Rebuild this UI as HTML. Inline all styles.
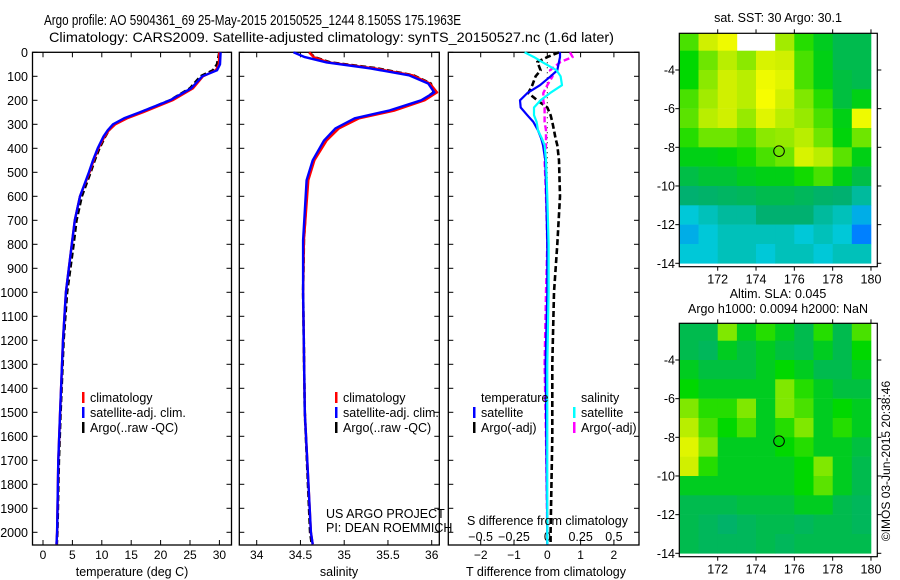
<!DOCTYPE html>
<html><head><meta charset="utf-8"><style>
html,body{margin:0;padding:0;background:#fff;}
svg{display:block;font-family:"Liberation Sans",sans-serif;}
text{fill:#000;}
</style></head><body>
<svg id="fig" width="900" height="580" viewBox="0 0 900 580" xmlns="http://www.w3.org/2000/svg">
<text x="44" y="25" font-size="14.5" textLength="417" lengthAdjust="spacingAndGlyphs">Argo profile: AO 5904361_69 25-May-2015 20150525_1244 8.1505S 175.1963E</text>
<text x="49" y="42" font-size="14" textLength="565" lengthAdjust="spacingAndGlyphs">Climatology: CARS2009. Satellite-adjusted climatology: synTS_20150527.nc (1.6d later)</text>
<text x="890" y="461" font-size="12" text-anchor="middle" transform="rotate(-90 890 461)">©IMOS 03-Jun-2015 20:38:46</text>
<g id="g"></g>
</svg>
<script>
// ---------- data ----------
const depthT = [0,50,75,100,150,200,250,275,300,325,350,400,450,500,600,700,800,1000,1200,1500,1700,2000,2050];
const tempClim = [30.0,29.9,29.4,27.2,25.5,22.0,17.0,14.3,12.3,11.2,10.5,9.4,8.6,7.9,6.3,5.4,4.9,3.9,3.4,2.9,2.6,2.4,2.3];
const tempSat  = [30.2,30.1,29.6,27.1,25.2,21.6,16.5,13.8,11.9,11.0,10.3,9.3,8.5,7.8,6.3,5.4,4.9,3.9,3.4,2.9,2.6,2.4,2.3];
const tempArgo = [30.0,29.6,28.9,26.8,25.0,21.6,16.6,14.1,12.1,11.2,10.6,9.6,8.8,8.1,6.6,5.7,5.2,4.1,3.5,3.0,2.7,2.45,2.35];
const depthS = [0,20,42,67,96,130,167,200,242,275,317,367,450,533,783,1000,1500,2000,2050];
const salClim = [34.60,34.65,34.82,35.35,35.78,35.98,36.06,35.92,35.58,35.17,34.94,34.80,34.66,34.59,34.54,34.53,34.55,34.62,34.64];
const salSat  = [34.42,34.55,34.80,35.30,35.74,35.96,36.03,35.88,35.52,35.12,34.90,34.77,34.64,34.57,34.53,34.53,34.55,34.62,34.64];
const salArgo = [34.60,34.66,34.84,35.38,35.79,35.99,36.02,35.90,35.55,35.15,34.93,34.79,34.65,34.58,34.54,34.53,34.55,34.61,34.63];
const depthD = [0,20,40,75,100,137,170,200,230,262,290,325,360,387,450,600,800,1000,1300,1600,2000,2050];
const dTsat  = [0.38,0.38,0.35,0.30,0.10,-0.22,-0.60,-0.82,-0.80,-0.60,-0.42,-0.28,-0.18,-0.13,-0.06,-0.03,0.0,0.0,-0.05,-0.03,0.0,0.0];
const dSsat  = [-0.17,-0.10,-0.04,0.07,0.10,0.11,0.02,-0.05,-0.10,-0.10,-0.08,-0.07,-0.04,-0.02,-0.01,0.0,0.01,0.01,0.0,0.0,0.0,0.0];
const dTargo = [0.35,0.0,-0.30,-0.20,-0.35,-0.45,-0.57,-0.30,0.0,0.10,0.15,0.20,0.25,0.30,0.35,0.38,0.30,0.20,0.15,0.15,0.10,0.10];
const dSargo = [0.17,0.19,0.10,0.02,0.04,0.00,-0.03,-0.03,-0.02,-0.02,-0.02,-0.01,-0.01,-0.01,-0.02,-0.01,0.0,-0.01,-0.02,-0.01,0.0,0.0];
const depthTicks = [0,100,200,300,400,500,600,700,800,900,1000,1100,1200,1300,1400,1500,1600,1700,1800,1900,2000];
const tempTicks = [0,5,10,15,20,25,30];
const salTicks = [34,34.5,35,35.5,36];
const dTTicks = [-2,-1,0,1,2];
const dSTicks = [-0.5,-0.25,0,0.25,0.5];
const lonTicks = [172,174,176,178,180];
const latTicks = [-4,-6,-8,-10,-12,-14];
const sstGrid = [
[0.62,0.72,0.76,null,null,0.68,0.60,0.55,0.50,0.50],
[0.58,0.64,0.70,0.66,0.73,0.72,0.62,0.56,0.50,0.50],
[0.58,0.66,0.72,0.70,0.76,0.74,0.62,0.56,0.52,0.50],
[0.62,0.68,0.72,0.70,0.77,0.72,0.65,0.60,0.52,0.56],
[0.63,0.70,0.72,0.67,0.74,0.70,0.67,0.62,0.56,0.76],
[0.60,0.64,0.64,0.62,0.66,0.67,0.70,0.64,0.57,0.64],
[0.56,0.56,0.57,0.59,0.62,0.64,0.73,0.70,0.63,0.56],
[0.51,0.53,0.53,0.55,0.56,0.56,0.59,0.62,0.56,0.51],
[0.45,0.46,0.47,0.48,0.50,0.50,0.48,0.46,0.45,0.42],
[0.38,0.40,0.42,0.42,0.45,0.45,0.45,0.42,0.40,0.35],
[0.35,0.38,0.40,0.40,0.40,0.40,0.38,0.40,0.38,0.30],
[0.38,0.38,0.40,0.40,0.38,0.40,0.40,0.38,0.40,0.40]];
const slaGrid = [
[0.50,0.50,0.65,0.55,0.60,0.55,0.50,0.60,0.50,0.62],
[0.50,0.48,0.55,0.52,0.55,0.52,0.50,0.55,0.50,0.58],
[0.55,0.52,0.52,0.52,0.55,0.58,0.55,0.50,0.50,0.55],
[0.58,0.55,0.55,0.55,0.55,0.65,0.60,0.55,0.52,0.52],
[0.65,0.60,0.60,0.65,0.55,0.65,0.62,0.55,0.58,0.55],
[0.70,0.62,0.58,0.62,0.55,0.60,0.65,0.55,0.60,0.55],
[0.74,0.65,0.55,0.55,0.55,0.58,0.60,0.55,0.55,0.52],
[0.72,0.60,0.55,0.55,0.55,0.55,0.58,0.65,0.55,0.50],
[0.55,0.55,0.55,0.55,0.55,0.55,0.58,0.63,0.55,0.50],
[0.50,0.50,0.50,0.52,0.52,0.52,0.55,0.55,0.50,0.48],
[0.50,0.48,0.46,0.48,0.50,0.50,0.48,0.50,0.50,0.48],
[0.50,0.48,0.48,0.48,0.50,0.48,0.50,0.50,0.50,0.50]];
const floatLon = 175.2, floatLat = -8.2;

// ---------- helpers ----------
const NS="http://www.w3.org/2000/svg";
const G=document.getElementById('g');
function mk(tag,attrs,parent){const e=document.createElementNS(NS,tag);for(const k in attrs)e.setAttribute(k,attrs[k]);(parent||G).appendChild(e);return e;}
const yD = d => 52.3 + d*0.24;
const PTOP=52.3, PBOT=545;
const xT = v => 43 + v*5.88;
const xS = v => 256.7 + (v-34)*87.5;
const xDT = v => 547.3 + v*33.3;
const xDS = v => 547.3 + v*133.3;

function frame(x0,x1,name){
  const r=mk('rect',{x:x0,y:PTOP,width:x1-x0,height:PBOT-PTOP,fill:'none',stroke:'#000','stroke-width':1.3});
  
  
  depthTicks.forEach(d=>{
    const t1=mk('line',{x1:x0,x2:x0+5,y1:yD(d),y2:yD(d),stroke:'#000'});
    
    
    const t2=mk('line',{x1:x1,x2:x1-5,y1:yD(d),y2:yD(d),stroke:'#000'});
    
    
  });
}
function xticks(ticks,fx,labels,name){
  ticks.forEach(v=>{
    const x=fx(v);
    const a=mk('line',{x1:x,x2:x,y1:PTOP,y2:PTOP+5,stroke:'#000'});
    
    
    const b=mk('line',{x1:x,x2:x,y1:PBOT,y2:PBOT-5,stroke:'#000'});
    
    
    if(labels){
      const t=mk('text',{x:x,y:559,'font-size':12,'text-anchor':'middle'});
      t.textContent=String(v).replace('-','\u2212');
      
      
    }
  });
}
function curve(xs,ds,fx,color,w,dash,name){
  const pts=xs.map((v,i)=>fx(v).toFixed(1)+','+yD(ds[i]).toFixed(1)).join(' ');
  const a={points:pts,fill:'none',stroke:color,'stroke-width':w,'stroke-linejoin':'round'};
  if(dash)a['stroke-dasharray']=dash;
  const p=mk('polyline',a);
  
  
}
function label(x,y,txt,name,size,anchor){
  const t=mk('text',{x:x,y:y,'font-size':size||12,'text-anchor':anchor||'start'});
  t.textContent=txt;
  
  
  return t;
}
function legendEntry(x,y,color,txt,name){
  const m=mk('rect',{x:x,y:y-10,width:2.5,height:11,fill:color});
  
  
  label(x+8,y,txt,name,12.5);
}

// depth labels
depthTicks.forEach(d=>{
  const t=mk('text',{x:28,y:yD(d)+4.5,'font-size':12.5,'text-anchor':'end'});
  t.textContent=d;
  
  
});

// ---- Panel 1: temperature
frame(32.5,231.5,'temperature-panel-frame');
xticks(tempTicks,xT,true,'temperature');
curve(tempArgo,depthT,xT,'#000',2.6,'6,3','temp-argo-line');
curve(tempClim,depthT,xT,'#f00',2.4,null,'temp-climatology-line');
curve(tempSat,depthT,xT,'#00f',2.4,null,'temp-satellite-line');
label(132,576,'temperature (deg C)','temperature-axis-title',12.5,'middle');
legendEntry(82,402,'#f00','climatology','legend-climatology');
legendEntry(82,417,'#00f','satellite-adj. clim.','legend-satellite');
legendEntry(82,432,'#000','Argo(..raw -QC)','legend-argo');

// ---- Panel 2: salinity
frame(239.3,439.3,'salinity-panel-frame');
xticks(salTicks,xS,true,'salinity');
curve(salArgo,depthS,xS,'#000',2.6,'6,3','sal-argo-line');
curve(salClim,depthS,xS,'#f00',2.4,null,'sal-climatology-line');
curve(salSat,depthS,xS,'#00f',2.4,null,'sal-satellite-line');
label(339,576,'salinity','salinity-axis-title',12.5,'middle');
legendEntry(335,402,'#f00','climatology','legend-climatology-2');
legendEntry(335,417,'#00f','satellite-adj. clim.','legend-satellite-2');
legendEntry(335,432,'#000','Argo(..raw -QC)','legend-argo-2');
label(326,518,'US ARGO PROJECT','project-label',12.5);
label(326,532,'PI: DEAN ROEMMICH','pi-label',12.5);

// ---- Panel 3: differences
frame(448.3,639,'difference-panel-frame');
xticks(dTTicks,xDT,true,'t-diff');
dSTicks.forEach(v=>{
  const t=mk('text',{x:xDS(v),y:541,'font-size':12.5,'text-anchor':'middle'});
  t.textContent=String(v).replace('-','\u2212');
  
  
});
const zl=mk('line',{x1:xDT(0),x2:xDT(0),y1:PTOP,y2:PBOT,stroke:'#000','stroke-dasharray':'1,4'});


curve(dTargo,depthD,xDT,'#000',2.6,'6,3','t-diff-argo-line');
curve(dSargo,depthD,xDS,'#f0f',2.4,'6,3','s-diff-argo-line');
curve(dTsat,depthD,xDT,'#00f',2.2,null,'t-diff-satellite-line');
curve(dSsat,depthD,xDS,'#0ff',2.2,null,'s-diff-satellite-line');
label(467,525,'S difference from climatology','s-diff-axis-title',12.5);
label(546,576,'T difference from climatology','t-diff-axis-title',12.5,'middle');
label(481,402,'temperature','legend-temperature-header',12.5);
legendEntry(473,417,'#00f','satellite','legend-t-satellite');
legendEntry(473,432,'#000','Argo(-adj)','legend-t-argo');
label(581,402,'salinity','legend-salinity-header',12.5);
legendEntry(573,417,'#0ff','satellite','legend-s-satellite');
legendEntry(573,432,'#f0f','Argo(-adj)','legend-s-argo');

// ---- Maps
const cmapStops=[[0,[0,0,143]],[0.15,[0,0,255]],[0.30,[0,128,255]],[0.38,[0,200,216]],[0.45,[0,176,112]],[0.52,[0,192,64]],[0.58,[0,216,0]],[0.65,[128,232,0]],[0.72,[208,240,0]],[0.78,[255,255,0]],[0.86,[255,160,0]],[1,[192,0,0]]];
function cmap(v){
  for(let i=1;i<cmapStops.length;i++){
    if(v<=cmapStops[i][0]){const a=cmapStops[i-1],b=cmapStops[i];const f=(v-a[0])/(b[0]-a[0]);
      return 'rgb('+a[1].map((c,k)=>Math.round(c+(b[1][k]-c)*f)).join(',')+')';}
  }
  return 'rgb(192,0,0)';
}
const lonX = l => 717.7 + (l-172)*19.16;
function drawMap(grid,yoff,name,title1,title2){
  const latY = la => 70 + yoff + (-4-la)*19.33;
  const top=33.3+yoff, bot=266.7+yoff, left=679.3, right=877.3;
  grid.forEach((row,r)=>{
    row.forEach((v,c)=>{
      if(v===null)return;
      const la0=Math.min(-2-r,-2.1), la1=-3-r;
      const cell=mk('rect',{x:lonX(170+c).toFixed(1),y:latY(la0).toFixed(1),width:(lonX(171+c)-lonX(170+c)+0.3).toFixed(1),height:(latY(la1)-latY(la0)+0.3).toFixed(1),fill:cmap(v)});
      
      
    });
  });
  const cover=mk('rect',{x:left-3,y:top,width:3.2,height:bot-top,fill:'#fff'});
  
  
  const fr=mk('rect',{x:left,y:top,width:right-left,height:bot-top,fill:'none',stroke:'#000','stroke-width':1.2});
  
  
  lonTicks.forEach(l=>{
    const x=lonX(l);
    const a=mk('line',{x1:x,x2:x,y1:top,y2:top-4,stroke:'#000'});
    
    
    const b=mk('line',{x1:x,x2:x,y1:bot,y2:bot+4,stroke:'#000'});
    
    
    label(x,bot+17,String(l),name+'-lon-label',12.5,'middle');
  });
  latTicks.forEach(la=>{
    const y=latY(la);
    const a=mk('line',{x1:left,x2:left-4,y1:y,y2:y,stroke:'#000'});
    
    
    const b=mk('line',{x1:right,x2:right+4,y1:y,y2:y,stroke:'#000'});
    
    
    label(675,y+4.5,String(la),name+'-lat-label',12.5,'end');
  });
  const circ=mk('circle',{cx:lonX(floatLon),cy:latY(floatLat),r:5.3,fill:'none',stroke:'#000','stroke-width':1});
  
  
  if(title1)label(778,yoff===0?22:298,title1,name+'-title',12.5,'middle');
  if(title2)label(778,313,title2,name+'-subtitle',12.5,'middle');
}
drawMap(sstGrid,0,'sst-map','sat. SST: 30 Argo: 30.1');
drawMap(slaGrid,290,'sla-map','Altim. SLA: 0.045','Argo h1000: 0.0094 h2000: NaN');
</script>
</body></html>
